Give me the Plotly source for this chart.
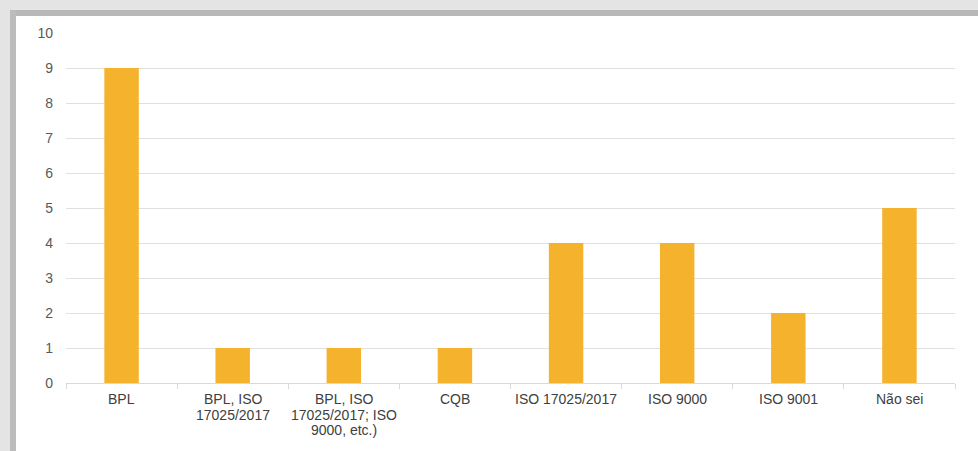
import plotly.graph_objects as go

categories = ["BPL", "BPL, ISO<br>17025/2017", "BPL, ISO<br>17025/2017; ISO<br>9000, etc.)",
              "CQB", "ISO 17025/2017", "ISO 9000", "ISO 9001", "Não sei"]
counts = [9, 1, 1, 1, 4, 4, 2, 5]
y_ticks = list(range(0, 11))

W, H = 978, 451
L, R, T, B = 66, 23, 33, 68
pw, ph = W - L - R, H - T - B
LINE_STEP = 15.5  # px between wrapped category-label lines


def px_x(x):
    return (x - L) / pw


def px_y(y):
    return (H - B - y) / ph


fig = go.Figure(go.Bar(
    x=categories, y=counts,
    marker=dict(color="#F5B22C", line=dict(width=0)),
    hoverinfo="y",
))

# grey picture frame along the top and left edges
frame = [
    (0, 0, W, 10, "#e4e4e4"),
    (0, 10, W, 16, "#b8b8b8"),
    (0, 0, 10, H, "#e4e4e4"),
    (10, 10, 16, H, "#bcbcbc"),
]
shapes = []
for x0, y0, x1, y1, c in frame:
    shapes.append(dict(type="rect", xref="paper", yref="paper",
                       x0=px_x(x0), x1=px_x(x1), y0=px_y(y1), y1=px_y(y0),
                       fillcolor=c, line=dict(width=0), layer="below"))

# category labels, one annotation per wrapped line for tighter line spacing
annotations = []
for cat in categories:
    for i, line in enumerate(cat.split("<br>")):
        annotations.append(dict(
            x=cat, xref="x", y=0, yref="paper", yanchor="top", xanchor="center",
            text=line, showarrow=False, yshift=-6 - i * LINE_STEP,
            font=dict(size=14, color="#404040"),
        ))

fig.update_layout(
    width=W, height=H,
    margin=dict(l=L, r=R, t=T, b=B, pad=0),
    paper_bgcolor="white", plot_bgcolor="white",
    bargap=0.69, showlegend=False,
    font=dict(family="Liberation Sans, Arial, sans-serif", size=14, color="#404040"),
    shapes=shapes,
    annotations=annotations,
    xaxis=dict(
        showline=True, linecolor="#d9d9d9", linewidth=1,
        ticks="outside", tickson="boundaries", ticklen=5, tickcolor="#d9d9d9",
        showticklabels=False, showgrid=False,
    ),
    yaxis=dict(
        range=[0, 10], tickvals=y_ticks, showgrid=True, gridcolor="#e0e0e0", gridwidth=1,
        zeroline=False, showline=False, ticklabelstandoff=12,
        tickfont=dict(size=14, color="#595959"),
    ),
)

fig.write_html("out.html")
